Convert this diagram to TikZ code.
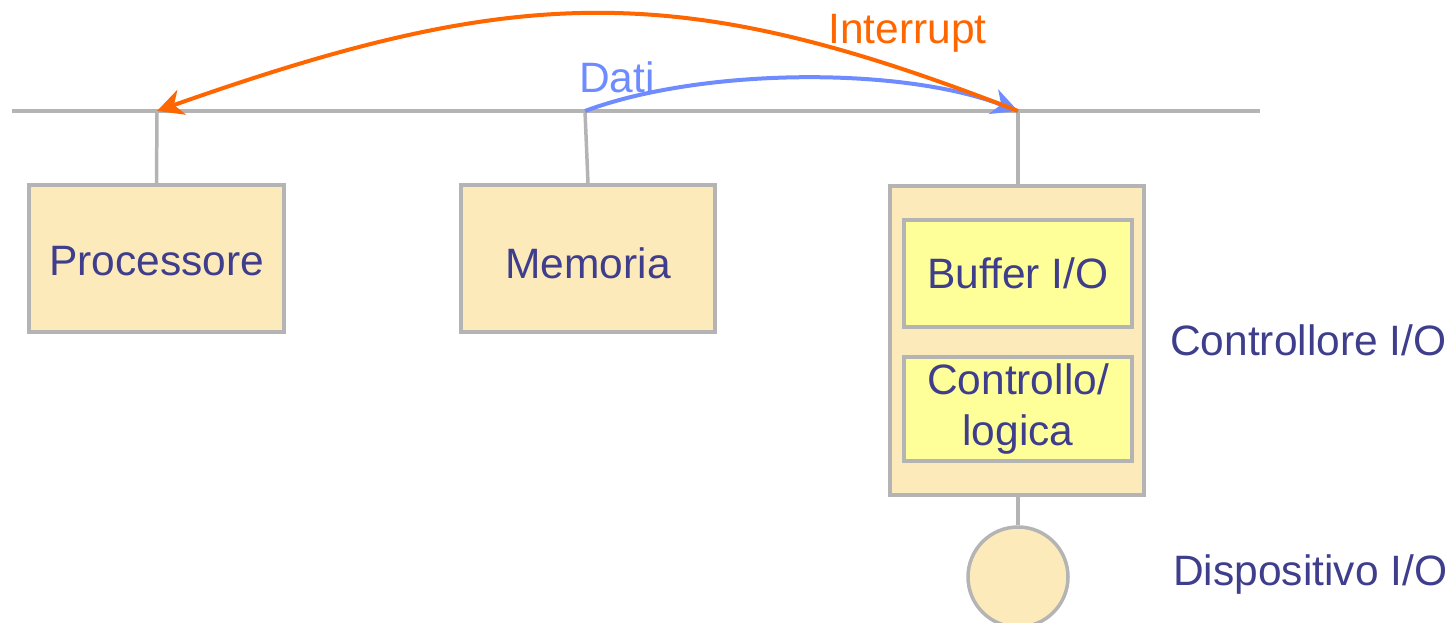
\documentclass[tikz,border=0pt]{standalone}
\usepackage{fontspec}
\setmainfont{Liberation Sans}
\usetikzlibrary{arrows.meta}
\definecolor{boxfill}{RGB}{253,234,186}
\definecolor{innerfill}{RGB}{255,255,153}
\definecolor{linegray}{RGB}{180,180,180}
\definecolor{txtblue}{RGB}{62,62,140}
\definecolor{intorange}{RGB}{255,102,0}
\definecolor{datiblue}{RGB}{110,140,255}
\tikzset{
  outerbox/.style={draw=linegray, line width=3.5pt, fill=boxfill, rectangle, inner sep=0pt, text=txtblue, font=\fontsize{42.5}{50}\selectfont},
  innerbox/.style={draw=linegray, line width=3.5pt, fill=innerfill, rectangle, inner sep=0pt, text=txtblue, font=\fontsize{42.5}{51}\selectfont, align=center},
  lbl/.style={text=txtblue, font=\fontsize{42.5}{50}\selectfont, inner sep=0pt},
  wire/.style={draw=linegray, line width=3.5pt},
  arrowlbl/.style={font=\fontsize{42.5}{50}\selectfont, inner sep=0pt},
}
\begin{document}
\begin{tikzpicture}[x=1pt,y=-1pt]
\useasboundingbox (0,0) rectangle (1451,623);
% bus
\coordinate (bL) at (12,111);
\coordinate (bR) at (1260,111);
\coordinate (tp) at (157,111);
\coordinate (tm) at (585,111);
\coordinate (tc) at (1018,111);
\draw[wire, line width=4pt] (bL) -- (bR);
% boxes
\node[outerbox, minimum width=255pt, minimum height=147pt, text depth=0pt, text height=33pt] (proc) at (156.5,258.5) {Processore};
\node[outerbox, minimum width=254pt, minimum height=147pt, text depth=0pt, text height=40pt] (mem) at (588,258.5) {Memoria};
\node[outerbox, minimum width=254pt, minimum height=309pt] (ctrl) at (1017,340.5) {};
\node[innerbox, minimum width=228pt, minimum height=107pt] (buf) at (1018,273.5) {Buffer I/O};
\node[innerbox, minimum width=228pt, minimum height=104pt] (logic) at (1018,409) {Controllo/\\logica};
\node[circle, draw=linegray, line width=3.5pt, fill=boxfill, minimum size=100pt, inner sep=0pt] (dev) at (1018,577) {};
% taps
\draw[wire] (tp) -- (proc.north);
\draw[wire] (tm) -- (mem.north);
\draw[wire] (tc) -- (tc |- ctrl.north);
\draw[wire] (dev.north |- ctrl.south) -- (dev.north);
% labels
\node[lbl, anchor=west] (lctrl) at (1170,340) {Controllore I/O};
\node[lbl, anchor=west] (ldev) at (1173,575) {Dispositivo I/O};
% arrows
\draw[datiblue, line width=4pt, -{Stealth[length=26pt,width=26pt,inset=8pt]}]
  (tm) .. controls (700,68) and (900,66) .. (tc);
\draw[intorange, line width=4pt, -{Stealth[length=26pt,width=26pt,inset=8pt]}]
  (tc) .. controls (680,-21) and (520,-17) .. (tp);
\node[arrowlbl, text=intorange, anchor=west] (lint) at (828,33) {Interrupt};
\node[arrowlbl, text=datiblue, anchor=west] (ldati) at (579,77) {Dati};
\end{tikzpicture}
\end{document}
